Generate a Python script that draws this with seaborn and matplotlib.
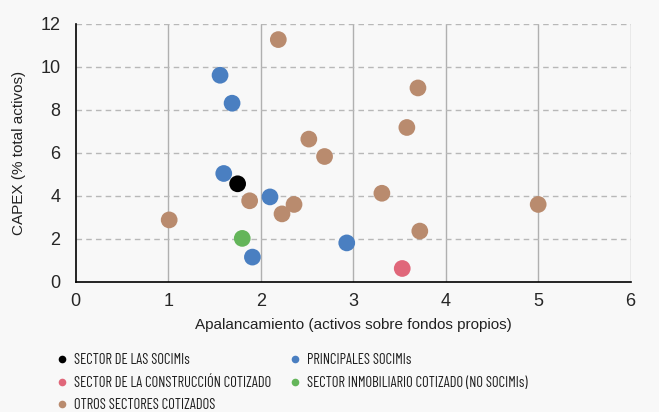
import matplotlib
matplotlib.use("Agg")
import matplotlib.pyplot as plt
from matplotlib.lines import Line2D
import seaborn as sns
import pandas as pd

# Apalancamiento (x) y CAPEX (% total activos) (y) por grupo
socimi_sector_x = [1.75]
socimi_sector_y = [4.56]

principales_x = [1.56, 1.69, 1.60, 2.10, 1.91, 2.93]
principales_y = [9.61, 8.31, 5.04, 3.95, 1.15, 1.81]

construccion_x = [3.53]
construccion_y = [0.62]

inmobiliario_x = [1.80]
inmobiliario_y = [2.02]

otros_x = [2.19, 2.52, 2.69, 1.88, 2.36, 2.23, 1.01, 3.70, 3.58, 3.31, 5.00, 3.72]
otros_y = [11.27, 6.64, 5.83, 3.77, 3.60, 3.16, 2.88, 9.02, 7.18, 4.12, 3.60, 2.36]

groups = [
    "SECTOR DE LAS SOCIMIs",
    "PRINCIPALES SOCIMIs",
    "SECTOR DE LA CONSTRUCCIÓN COTIZADO",
    "SECTOR INMOBILIARIO COTIZADO (NO SOCIMIs)",
    "OTROS SECTORES COTIZADOS",
]
colors = ["#000000", "#4a7fc1", "#e0677a", "#64b55a", "#b98b6e"]

xticks = [0, 1, 2, 3, 4, 5, 6]
yticks = [0, 2, 4, 6, 8, 10, 12]

rows = []
for g, xs, ys in zip(
    groups,
    [socimi_sector_x, principales_x, construccion_x, inmobiliario_x, otros_x],
    [socimi_sector_y, principales_y, construccion_y, inmobiliario_y, otros_y],
):
    for xv, yv in zip(xs, ys):
        rows.append({"grupo": g, "x": xv, "y": yv})
df = pd.DataFrame(rows)

sns.set_style("white")
plt.rcParams["font.family"] = ["Liberation Sans", "DejaVu Sans"]

bg = "#f8f8f8"
fig = plt.figure(figsize=(6.59, 4.12), dpi=100, facecolor=bg)
ax = fig.add_axes([0.115, 0.316, 0.842, 0.626], facecolor=bg)

# Vertical solid grid and horizontal dashed grid
for xv in xticks[1:]:
    ax.axvline(xv, color="#b0b0b0", lw=1.0, zorder=0)
for yv in yticks[1:]:
    ax.axhline(yv, color="#b8b8b8", lw=1.0, ls=(0, (4, 3)), zorder=0)

palette = dict(zip(groups, colors))
# draw "otros" first so the highlighted groups sit on top
order_draw = [groups[4], groups[1], groups[2], groups[3], groups[0]]
for g in order_draw:
    sub = df[df["grupo"] == g]
    sns.scatterplot(data=sub, x="x", y="y", color=palette[g], s=145,
                    edgecolor="none", ax=ax, legend=False, zorder=3)

ax.set_xlim(0, 6)
ax.set_ylim(0, 12)
ax.set_xticks(xticks)
ax.set_yticks(yticks)
ax.set_xticklabels([str(t) for t in xticks], fontsize=13)
ax.set_yticklabels([str(t) for t in yticks], fontsize=13)
ax.tick_params(axis="x", direction="in", length=5, width=1, color="black", pad=8)
ax.tick_params(axis="y", direction="out", length=5, width=1, color="black", pad=6)
for side in ["top", "right"]:
    ax.spines[side].set_visible(False)
for side in ["left", "bottom"]:
    ax.spines[side].set_color("black")
    ax.spines[side].set_linewidth(1.2)

ax.set_xlabel("Apalancamiento (activos sobre fondos propios)", fontsize=11, color="#222222", labelpad=6)
ax.set_ylabel("CAPEX (% total activos)", fontsize=11, color="#222222", labelpad=10)

handles = [Line2D([0], [0], marker="o", ls="none", markersize=5.5,
                  markerfacecolor=c, markeredgecolor="none") for c in colors]

legend_font = {"family": ["Barlow Condensed", "Fira Sans Extra Condensed", "DejaVu Sans"], "size": 10.5}
common = dict(loc="upper left", frameon=False, prop=legend_font, handlelength=0.85,
              handletextpad=0.35, labelspacing=0.58, borderpad=0, borderaxespad=0)

left_col = [0, 2, 4]
right_col = [1, 3]
leg1 = fig.legend([handles[i] for i in left_col], [groups[i] for i in left_col],
                  bbox_to_anchor=(0.085, 0.142), **common)
leg2 = fig.legend([handles[i] for i in right_col], [groups[i] for i in right_col],
                  bbox_to_anchor=(0.4386, 0.142), **common)
for leg in (leg1, leg2):
    for t in leg.get_texts():
        t.set_color("#1e1e1e")

fig.savefig("out.png", dpi=100, facecolor=bg)
